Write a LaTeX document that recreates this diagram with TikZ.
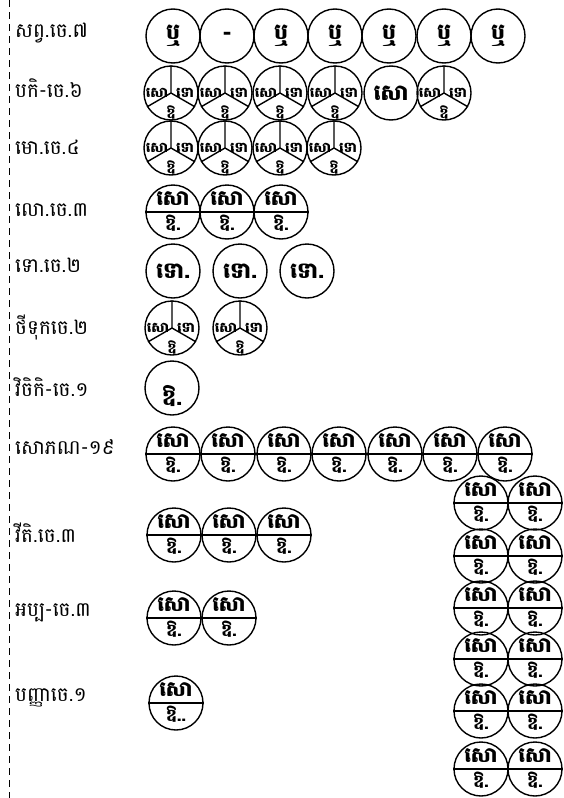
\documentclass[tikz,border=0pt]{standalone}
\usepackage{fontspec}
\newfontfamily\kh[Script=Khmer]{Battambang}
\tikzset{
  cc/.style={circle, draw, line width=1.4pt, minimum size=54pt, inner sep=0pt},
  ln/.style={line width=1.4pt},
  lbl/.style={anchor=west, inner sep=0pt, font=\kh\fontsize{20}{22}\selectfont},
  ys/.style={inner sep=0pt, font=\kh\bfseries\fontsize{14}{16}\selectfont},
  htop/.style={inner sep=0pt, font=\kh\bfseries\fontsize{21}{23}\selectfont},
  hbot/.style={inner sep=0pt, font=\kh\bfseries\fontsize{17}{19}\selectfont},
  bigt/.style={font=\kh\bfseries\fontsize{22}{24}\selectfont},
  sep/.style={line width=1.2pt, dash pattern=on 7pt off 5pt}
}
\newcommand\hcirc[4]{%
  \node[cc] (#1) at (#2,#3) {};
  \draw[ln] (#1.west) -- (#1.east);
  \node[htop] (#1t) at (#2,#3-13) {សោ};
  \node[hbot] (#1b) at (#2,#3+11) {#4};
}
\newcommand\ycirc[3]{%
  \node[cc] (#1) at (#2,#3) {};
  \draw[ln] (#1.center) -- (#1.north) (#1.center) -- (#1.210) (#1.center) -- (#1.330);
  \node[ys] (#1l) at (#2-14,#3) {សោ};
  \node[ys] (#1r) at (#2+14,#3) {ទោ};
  \node[ys] (#1b) at (#2,#3+19) {ឱ};
}
\newcommand\tcirc[4]{%
  \node[cc,bigt] (#1) at (#2,#3) {#4};
}
\begin{document}
\begin{tikzpicture}[x=1pt,y=-1pt]
\useasboundingbox (0,0) rectangle (564,798);
\coordinate (st) at (9.5,0);
\coordinate (sb) at (9.5,798);
\draw[sep] (st) -- (sb);

% labels
\node[lbl] (l1) at (15,33) {សព្វ.ចេ.៧};
\node[lbl] (l2) at (15,88) {បកិ-ចេ.៦};
\node[lbl] (l3) at (15,147) {មោ.ចេ.៤};
\node[lbl] (l4) at (15,210) {លោ.ចេ.៣};
\node[lbl] (l5) at (15,265) {ទោ.ចេ.២};
\node[lbl] (l6) at (15,327) {ថីទុកចេ.២};
\node[lbl] (l7) at (15,387) {វិចិកិ-ចេ.១};
\node[lbl] (l8) at (15,447) {សោភណ-១៩};
\node[lbl] (l9) at (15,533) {វីតិ.ចេ.៣};
\node[lbl] (l10) at (15,613) {អប្ប-ចេ.៣};
\node[lbl] (l11) at (15,698) {បញ្ញាចេ.១};

% row 1
\tcirc{a1}{173}{36}{ឬ}
\tcirc{a2}{227}{36}{-}
\tcirc{a3}{281}{36}{ឬ}
\tcirc{a4}{335}{36}{ឬ}
\tcirc{a5}{389}{36}{ឬ}
\tcirc{a6}{444}{36}{ឬ}
\tcirc{a7}{498}{36}{ឬ}

% row 2
\ycirc{b1}{171}{93}
\ycirc{b2}{225}{93}
\ycirc{b3}{280}{93}
\ycirc{b4}{335}{93}
\tcirc{b5}{391}{93}{សោ}
\ycirc{b6}{444}{93}

% row 3
\ycirc{c1}{171}{148}
\ycirc{c2}{225}{148}
\ycirc{c3}{280}{148}
\ycirc{c4}{334}{148}

% row 4
\hcirc{d1}{173}{212}{ឱ.}
\hcirc{d2}{227}{212}{ឱ.}
\hcirc{d3}{281}{212}{ឱ.}

% row 5
\tcirc{e1}{173}{271}{ទោ.}
\tcirc{e2}{240}{271}{ទោ.}
\tcirc{e3}{307}{271}{ទោ.}

% row 6
\ycirc{f1}{172}{328}
\ycirc{f2}{240}{328}

% row 7
\node[cc] (g1) at (172,388) {};
\node[bigt,inner sep=0pt] (g1t) at (172,396) {ឱ.};

% row 8
\hcirc{h1}{173}{454}{ឱ.}
\hcirc{h2}{228}{454}{ឱ.}
\hcirc{h3}{284}{454}{ឱ.}
\hcirc{h4}{339}{454}{ឱ.}
\hcirc{h5}{395}{454}{ឱ.}
\hcirc{h6}{450}{454}{ឱ.}
\hcirc{h7}{505}{454}{ឱ.}

% right block
\hcirc{r1a}{481}{503}{ឱ.}
\hcirc{r1b}{535}{503}{ឱ.}
\hcirc{r2a}{481}{556}{ឱ.}
\hcirc{r2b}{535}{556}{ឱ.}
\hcirc{r3a}{481}{608}{ឱ.}
\hcirc{r3b}{535}{608}{ឱ.}
\hcirc{r4a}{481}{659}{ឱ.}
\hcirc{r4b}{535}{659}{ឱ.}
\hcirc{r5a}{481}{711}{ឱ.}
\hcirc{r5b}{535}{711}{ឱ.}
\hcirc{r6a}{481}{769}{ឱ.}
\hcirc{r6b}{535}{769}{ឱ.}

% row 9
\hcirc{i1}{174}{535}{ឱ.}
\hcirc{i2}{229}{535}{ឱ.}
\hcirc{i3}{284}{535}{ឱ.}

% row 10
\hcirc{j1}{174}{618}{ឱ.}
\hcirc{j2}{229}{618}{ឱ.}

% row 11
\hcirc{k1}{176}{703}{ឱ..}
\end{tikzpicture}
\end{document}
